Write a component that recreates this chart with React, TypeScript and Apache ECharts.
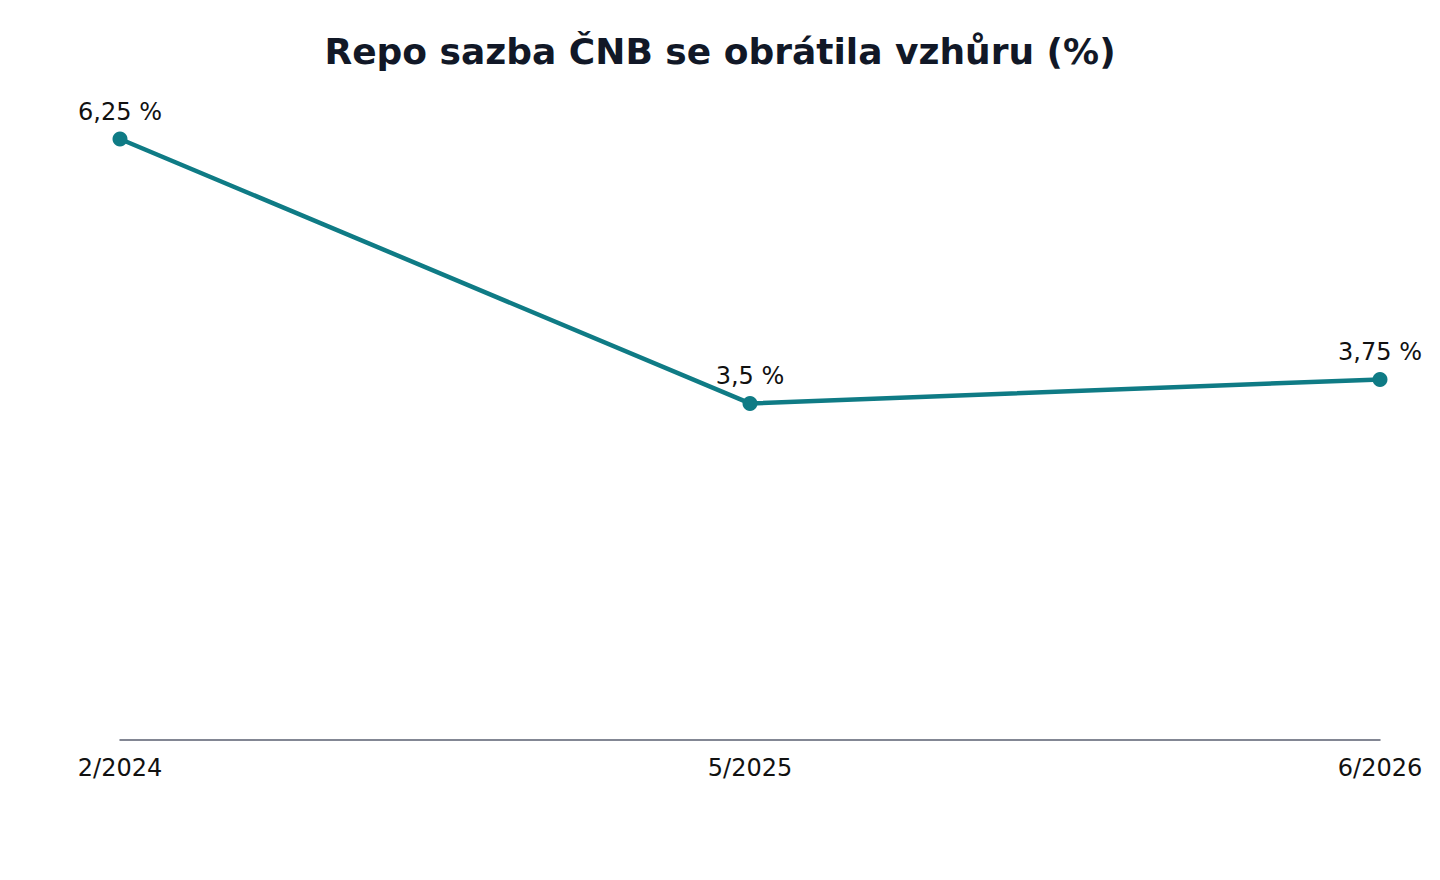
import { useEffect, useRef } from 'react';
import * as echarts from 'echarts';

const categories = ['2/2024', '5/2025', '6/2026'];
const repoRate = [6.25, 3.5, 3.75];

const TEAL = '#0f7b85';
const TEXT = '#111111';

export default function App() {
  const chartRef = useRef<HTMLDivElement>(null);

  useEffect(() => {
    if (!chartRef.current) return;
    document.body.style.margin = '0';
    const chart = echarts.init(chartRef.current, undefined, { renderer: 'svg' });

    const option: echarts.EChartsOption = {
      animation: false,
      backgroundColor: '#ffffff',
      textStyle: { fontFamily: 'DejaVu Sans' },
      title: {
        text: 'Repo sazba ČNB se obrátila vzhůru (%)',
        left: 'center',
        top: 28,
        textStyle: {
          fontFamily: 'DejaVu Sans',
          fontSize: 36,
          fontWeight: 'bold',
          color: '#111827'
        }
      },
      grid: {
        left: 120,
        right: 60,
        top: 139,
        bottom: 140
      },
      xAxis: {
        type: 'category',
        data: categories,
        boundaryGap: false,
        axisLine: { lineStyle: { color: '#5a5f70', width: 1.5 } },
        axisTick: { show: false },
        axisLabel: {
          color: TEXT,
          fontSize: 24,
          fontFamily: 'DejaVu Sans',
          margin: 16
        }
      },
      yAxis: {
        type: 'value',
        min: 0,
        max: 6.25,
        show: false,
        splitLine: { show: false }
      },
      series: [
        {
          type: 'line',
          data: repoRate,
          symbol: 'circle',
          symbolSize: 15,
          lineStyle: { color: TEAL, width: 4.5 },
          itemStyle: { color: TEAL },
          label: {
            show: true,
            position: 'top',
            distance: 8,
            color: TEXT,
            fontSize: 24,
            fontFamily: 'DejaVu Sans',
            formatter: (p: any) => `${String(p.value).replace('.', ',')} %`
          }
        }
      ]
    };

    chart.setOption(option);
    return () => chart.dispose();
  }, []);

  return <div ref={chartRef} style={{ width: 1440, height: 880 }} />;
}
